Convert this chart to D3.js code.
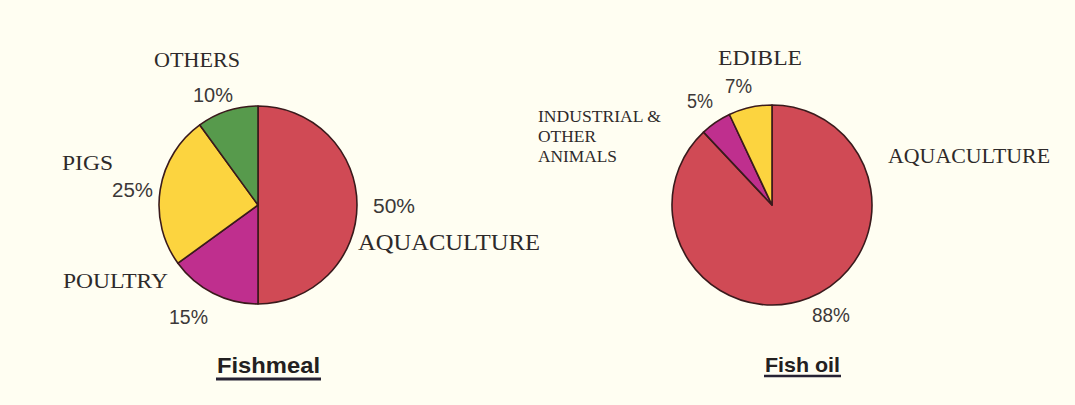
<!DOCTYPE html>
<html>
<head>
<meta charset="utf-8">
<script src="https://cdn.jsdelivr.net/npm/d3@7"></script>
<style>
  html, body { margin: 0; padding: 0; background: #fffef2; }
  svg { display: block; }
</style>
</head>
<body>
<svg id="chart" width="1075" height="405"></svg>
<script>
// ---- DATA ----
const fishmealCategories = ["AQUACULTURE", "POULTRY", "PIGS", "OTHERS"];
const fishmealValues = [50, 15, 25, 10];
const fishoilCategories = ["AQUACULTURE", "INDUSTRIAL & OTHER ANIMALS", "EDIBLE"];
const fishoilValues = [88, 5, 7];
const chartTitles = ["Fishmeal", "Fish oil"];

// ---- LAYOUT / STYLE (not data) ----
const colors = {
  "AQUACULTURE": "#d04a55",
  "POULTRY": "#bf2f8e",
  "INDUSTRIAL & OTHER ANIMALS": "#bf2f8e",
  "PIGS": "#fcd43f",
  "EDIBLE": "#fcd43f",
  "OTHERS": "#579a4c"
};
const serif = "'Liberation Serif', 'Times New Roman', serif";
const sans = "'Liberation Sans', Arial, sans-serif";

const charts = [
  {
    cats: fishmealCategories, vals: fishmealValues, title: chartTitles[0],
    cx: 258, cy: 205, r: 99,
    title_pos: { x: 217, y: 373, w: 103, fs: 22, ux1: 216, ux2: 321, uy: 379, uw: 3 },
    // name label: [x, baseline, width, fontsize, lines]; pct label: [x, baseline, width, fontsize]
    names: [
      { x: 358, y: 250, w: 182, fs: 23 },
      { x: 63, y: 288, w: 105, fs: 22 },
      { x: 62, y: 170, w: 51, fs: 22 },
      { x: 154, y: 67, w: 86, fs: 20 }
    ],
    pcts: [
      { x: 373, y: 213, w: 42, fs: 20 },
      { x: 169, y: 324, w: 39, fs: 20 },
      { x: 112, y: 197, w: 41, fs: 20 },
      { x: 193, y: 102, w: 40, fs: 20 }
    ]
  },
  {
    cats: fishoilCategories, vals: fishoilValues, title: chartTitles[1],
    cx: 772, cy: 205, r: 100,
    title_pos: { x: 765, y: 372, w: 75, fs: 21, ux1: 764, ux2: 841, uy: 376, uw: 2.5 },
    names: [
      { x: 888, y: 163, w: 162, fs: 21 },
      { x: 538, y: 122, w: 123, fs: 17, lines: ["INDUSTRIAL &", "OTHER", "ANIMALS"], lw: [123, 58, 79], lh: 20 },
      { x: 718, y: 65, w: 84, fs: 21 }
    ],
    pcts: [
      { x: 812, y: 322, w: 38, fs: 20 },
      { x: 687, y: 108, w: 26, fs: 20 },
      { x: 725, y: 93, w: 27, fs: 20 }
    ]
  }
];

const svg = d3.select("#chart");
svg.append("rect").attr("width", 1075).attr("height", 405).attr("fill", "#fffef2");

charts.forEach(c => {
  const pie = d3.pie().sort(null).value(d => d.v).startAngle(0).endAngle(2 * Math.PI);
  const arc = d3.arc().innerRadius(0).outerRadius(c.r);
  const rows = c.cats.map((k, i) => ({ k, v: c.vals[i] }));
  const g = svg.append("g").attr("transform", `translate(${c.cx},${c.cy})`);
  g.selectAll("path").data(pie(rows)).join("path")
    .attr("d", arc)
    .attr("fill", d => colors[d.data.k])
    .attr("stroke", "#3a1a1c")
    .attr("stroke-width", 1.6)
    .attr("stroke-linejoin", "round");

  // category names
  c.cats.forEach((k, i) => {
    const p = c.names[i];
    const lines = p.lines || [k];
    lines.forEach((ln, j) => {
      svg.append("text")
        .attr("x", p.x).attr("y", p.y + j * (p.lh || 0))
        .attr("font-family", serif).attr("font-size", p.fs)
        .attr("fill", "#2e2a2a")
        .attr("textLength", p.lw ? p.lw[j] : p.w)
        .attr("lengthAdjust", "spacingAndGlyphs")
        .text(ln);
    });
    const q = c.pcts[i];
    svg.append("text")
      .attr("x", q.x).attr("y", q.y)
      .attr("font-family", sans).attr("font-size", q.fs)
      .attr("fill", "#3c3838")
      .attr("textLength", q.w)
      .attr("lengthAdjust", "spacingAndGlyphs")
      .text(c.vals[i] + "%");
  });

  // title
  const t = c.title_pos;
  svg.append("text")
    .attr("x", t.x).attr("y", t.y)
    .attr("font-family", sans).attr("font-weight", "bold").attr("font-size", t.fs)
    .attr("fill", "#232020")
    .attr("textLength", t.w)
    .attr("lengthAdjust", "spacingAndGlyphs")
    .text(c.title);
  svg.append("line")
    .attr("x1", t.ux1).attr("x2", t.ux2).attr("y1", t.uy).attr("y2", t.uy)
    .attr("stroke", "#262233").attr("stroke-width", t.uw);
});
</script>
</body>
</html>
